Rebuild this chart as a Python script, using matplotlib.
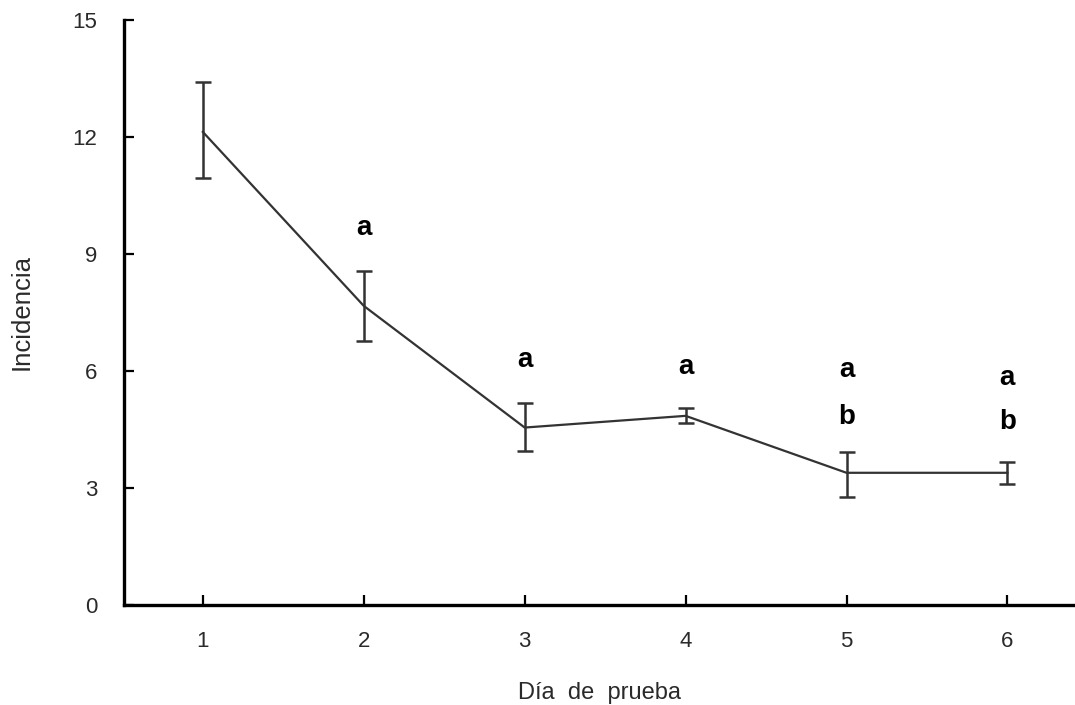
import matplotlib
matplotlib.use("Agg")
import matplotlib.pyplot as plt

days = [1, 2, 3, 4, 5, 6]
mean = [12.13, 7.67, 4.55, 4.85, 3.39, 3.39]
upper = [13.4, 8.56, 5.19, 5.05, 3.93, 3.67]
lower = [10.95, 6.78, 3.96, 4.67, 2.78, 3.09]
letters_a = [None, 9.67, 6.28, 6.1, 6.03, 5.82]
letters_b = [None, None, None, None, 4.82, 4.69]

plt.rcParams['font.family'] = ['Liberation Sans', 'DejaVu Sans']

fig = plt.figure(figsize=(10.75, 7.05), dpi=100)
ax = fig.add_axes([124/1075, 100/705, 1 - 124/1075, (605-20)/705])

yerr = [[m - l for m, l in zip(mean, lower)], [u - m for m, u in zip(mean, upper)]]
ax.errorbar(days, mean, yerr=yerr, color='#333333', lw=1.6, elinewidth=1.8,
            capsize=5.5, capthick=1.8)

for d, ya in zip(days, letters_a):
    if ya is not None:
        ax.text(d, ya, 'a', ha='center', va='center', fontsize=20, fontweight='bold', color='black')
for d, yb in zip(days, letters_b):
    if yb is not None:
        ax.text(d, yb, 'b', ha='center', va='center', fontsize=20, fontweight='bold', color='black')

ax.set_xlim(0.51, 6.42)
ax.set_ylim(0, 15)
ax.set_xticks(days)
ax.set_yticks([0, 3, 6, 9, 12, 15])
ax.spines['top'].set_visible(False)
ax.spines['right'].set_visible(False)
for s in ['left', 'bottom']:
    ax.spines[s].set_linewidth(2.4)
    ax.spines[s].set_color('black')
ax.tick_params(direction='in', length=7, width=1.6, labelsize=16, labelcolor='#2a2a2a')
ax.tick_params(axis='x', pad=19)
ax.tick_params(axis='y', pad=19)
ax.set_xlabel('Día  de  prueba', fontsize=17, color='#2a2a2a', labelpad=21)
ax.set_ylabel('Incidencia', fontsize=18.5, color='#2a2a2a', labelpad=28)

fig.savefig('out.png', dpi=100)
